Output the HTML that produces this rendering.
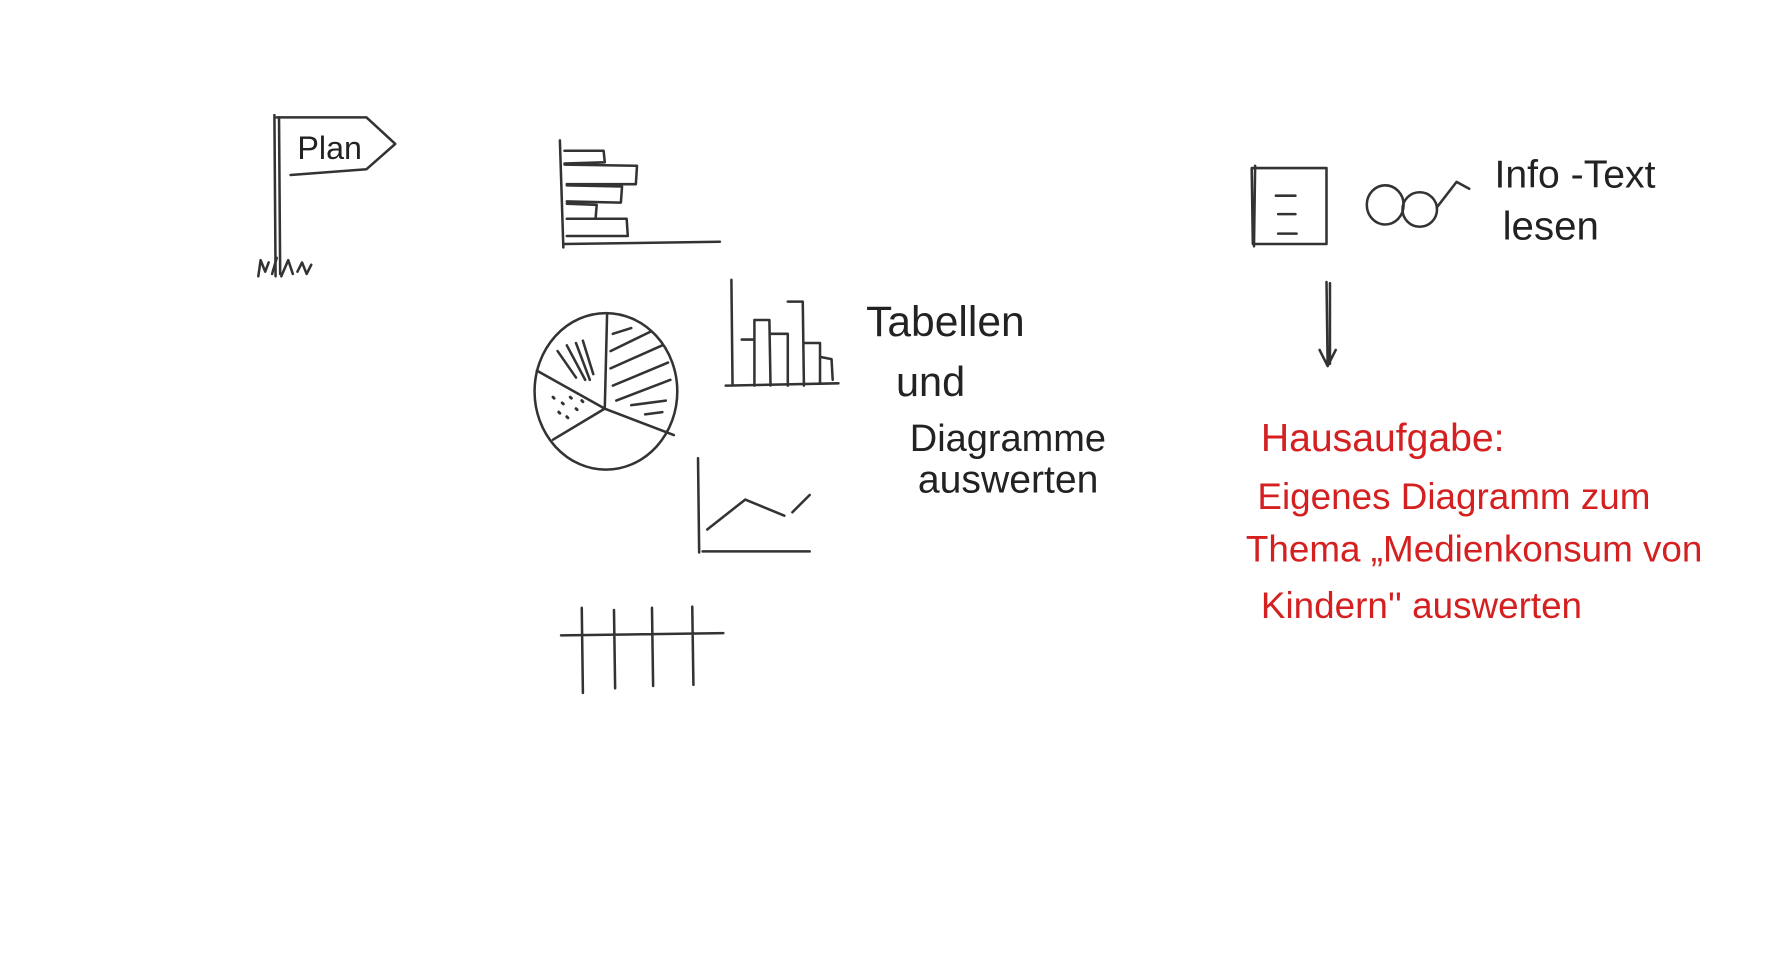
<!DOCTYPE html>
<html><head><meta charset="utf-8"><style>
html,body{margin:0;padding:0;background:#fff;width:1792px;height:960px;overflow:hidden}
svg{display:block}
text{font-family:"Liberation Sans",sans-serif;font-weight:300}
</style></head><body>
<svg width="1792" height="960" viewBox="0 0 1556 834" xmlns="http://www.w3.org/2000/svg">
<g fill="none" stroke="#333" stroke-width="2.2" stroke-linecap="round" stroke-linejoin="round">
<path d="M238 100 L239 240 M242 102 L243 238"/>
<path d="M240 102 L318 102 L343 125 L318 147 L252 152"/>
<path d="M224 240 L226 226 L230 236 L233 228 M236 238 L240 224 M244 240 L250 226 L254 238 M258 236 L262 228 L266 238 L270 230"/>
<path d="M486 122 L489 215 M490 212 L625 210"/>
<path d="M490 131 L524 131 L525 141 L490 142 M490 143 L553 144 L552 160 L492 160 M492 161 L540 162 L539 176 L492 175 M492 177 L518 178 L517 190 M492 190 L544 190 L545 205 L492 205"/>
<ellipse cx="526" cy="340" rx="62" ry="68"/>
<path d="M527 273 L525 355 L466 322 M525 355 L480 382 M525 355 L585 378"/>
<path d="M532 290 L548 285 M530 305 L565 288 M530 320 L575 300 M532 335 L580 315 M535 348 L582 330 M548 352 L578 348 M560 360 L575 358"/>
<path d="M484 305 L500 328 M492 300 L508 330 M500 298 L512 330 M506 296 L515 325"/>
<path d="M480 345 L481 346 M488 350 L489 351 M495 345 L496 346 M485 358 L486 359 M500 355 L501 356 M492 362 L493 363 M505 348 L506 349" stroke-width="2.5"/>
<path d="M635 243 L636 335 M630 335 L728 333"/>
<path d="M644 295 L655 295 M655 335 L655 278 L668 278 L669 335 M669 290 L684 290 L684 335 M684 262 L697 262 L698 335 M698 298 L712 298 L712 332 M712 310 L722 312 L723 330"/>
<path d="M606 398 L607 480 M610 479 L703 479"/>
<path d="M614 460 L647 434 L681 448 M688 445 L703 430"/>
<path d="M487 552 L628 550 M505 528 L506 602 M533 530 L534 598 M566 528 L567 596 M601 527 L602 595"/>
<path d="M1087 146 L1152 146 L1152 212 L1088 212 Z M1090 144 L1089 214"/>
<path d="M1108 170 L1125 170 M1110 186 L1125 186 M1110 203 L1126 203"/>
<ellipse cx="1203" cy="178" rx="16" ry="17"/>
<ellipse cx="1233" cy="182" rx="15" ry="15"/>
<path d="M1248 180 L1265 158 L1276 164"/>
<path d="M1152 245 L1153 318 M1155 246 L1155 316 M1146 304 L1153 318 L1160 304"/>
</g>
<g fill="#222">
<text x="258" y="138" font-size="28">Plan</text>
<text x="752" y="292" font-size="37">Tabellen</text>
<text x="778" y="344" font-size="36">und</text>
<text x="790" y="392" font-size="33">Diagramme</text>
<text x="797" y="428" font-size="34">auswerten</text>
<text x="1298" y="163" font-size="34">Info -Text</text>
<text x="1305" y="208" font-size="35">lesen</text>
</g>
<g fill="#d42020">
<text x="1095" y="392" font-size="34">Hausaufgabe:</text>
<text x="1092" y="442" font-size="32">Eigenes Diagramm zum</text>
<text x="1082" y="488" font-size="32">Thema „Medienkonsum von</text>
<text x="1095" y="537" font-size="32">Kindern'' auswerten</text>
</g>
</svg>
</body></html>
